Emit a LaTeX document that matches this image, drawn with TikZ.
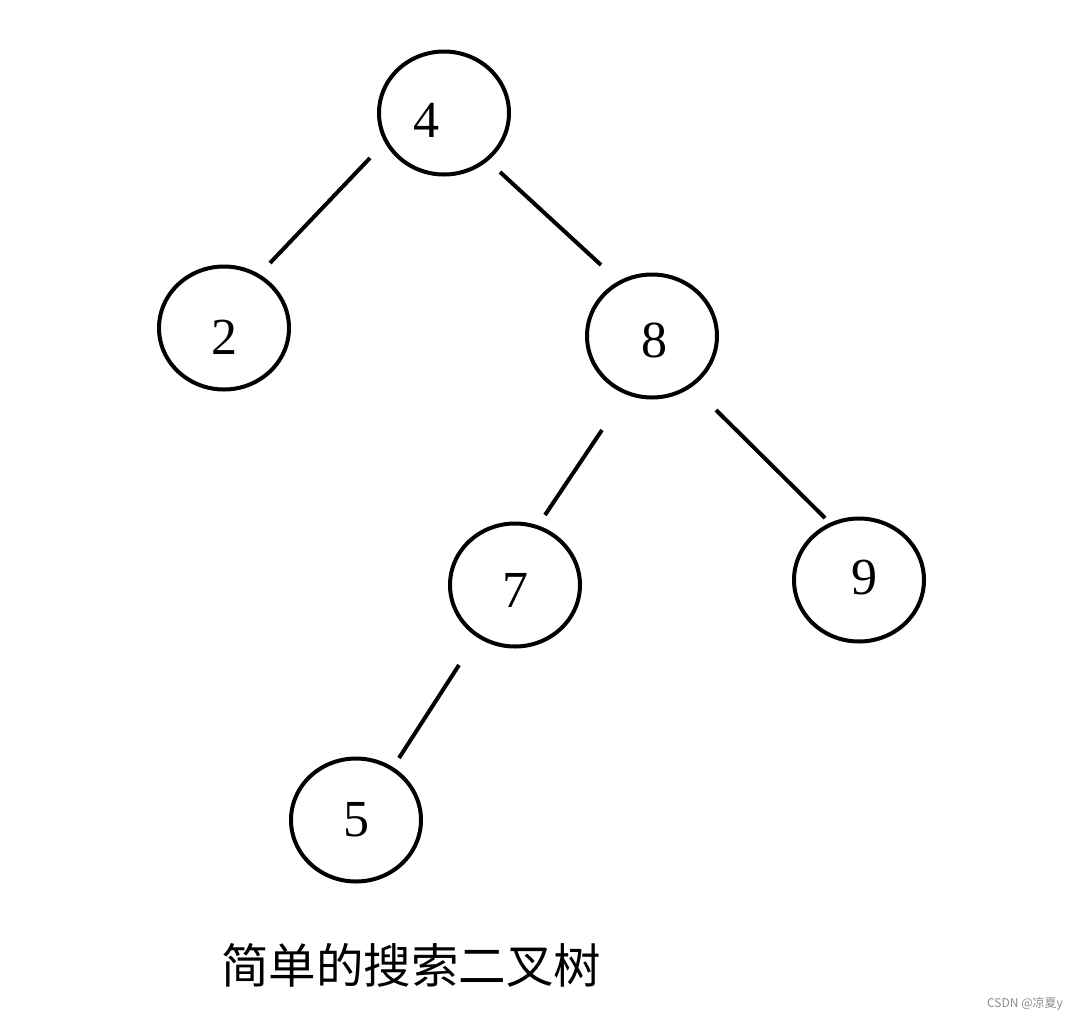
\documentclass[tikz,border=0pt]{standalone}
\usepackage{fontspec}
\setmainfont{Liberation Serif}
\newfontfamily\cjk{Noto Sans CJK SC}
\usetikzlibrary{shapes.geometric}
\begin{document}
\begin{tikzpicture}[x=1pt,y=-1pt,
  treenode/.style={draw,line width=4pt,ellipse,minimum width=130pt,minimum height=123pt,inner sep=0pt},
  digit/.style={font=\fontsize{52}{52}\selectfont,inner sep=0pt},
  edge/.style={line width=4pt}]
\useasboundingbox (0,0) rectangle (1080,1021);
\node[treenode] (n4) at (444,113) {};
\node[treenode] (n2) at (224,328) {};
\node[treenode] (n8) at (652,336) {};
\node[treenode] (n7) at (515,585) {};
\node[treenode] (n9) at (859,580) {};
\node[treenode] (n5) at (356,820) {};
\node[digit] (t4) at (426,120) {4};
\node[digit] (t2) at (224,337) {2};
\node[digit] (t8) at (654,340) {8};
\node[digit] (t7) at (515,590) {7};
\node[digit] (t9) at (864,578) {9};
\node[digit] (t5) at (356,820) {5};
\coordinate (a1) at (370,158); \coordinate (a2) at (270,263);
\coordinate (b1) at (500,172); \coordinate (b2) at (601,265);
\coordinate (c1) at (602,430); \coordinate (c2) at (545,515);
\coordinate (d1) at (716,410); \coordinate (d2) at (825,518);
\coordinate (e1) at (459,665); \coordinate (e2) at (399,758);
\draw[edge] (a1) -- (a2);
\draw[edge] (b1) -- (b2);
\draw[edge] (c1) -- (c2);
\draw[edge] (d1) -- (d2);
\draw[edge] (e1) -- (e2);
\node[font=\cjk\fontsize{47.5}{47.5}\selectfont,inner sep=0pt] (title) at (411,965) {简单的搜索二叉树};
\node[font=\cjk\fontsize{12}{12}\selectfont,text=black!45,inner sep=0pt] (wm) at (1025,1004) {CSDN @凉夏y};
\end{tikzpicture}
\end{document}
